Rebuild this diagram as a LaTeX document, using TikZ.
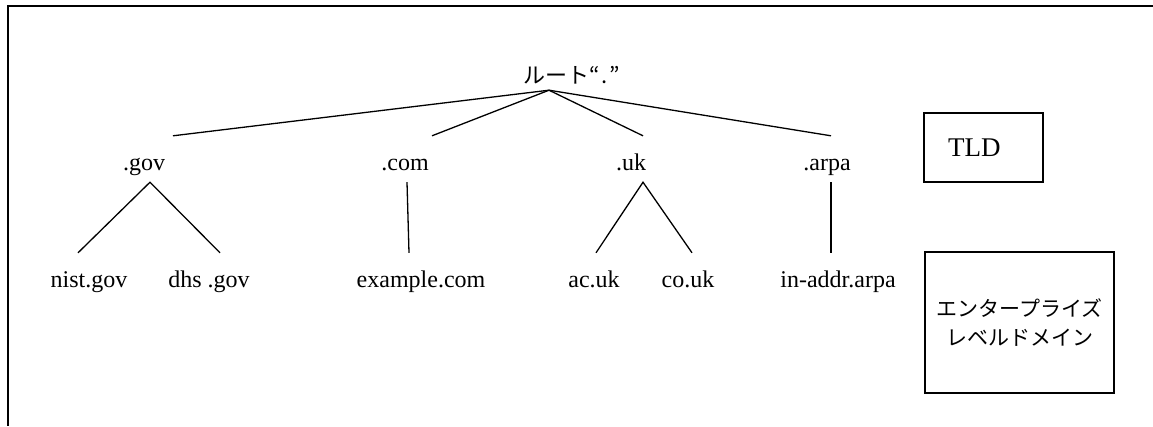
\documentclass[tikz,border=0pt]{standalone}
\usepackage{fontspec}
\setmainfont{Liberation Serif}
\newfontfamily\jpfont{Noto Sans CJK JP}
\begin{document}
\begin{tikzpicture}[x=1pt,y=-1pt,
  edge/.style={line width=1.3pt},
  tld/.style={font=\fontsize{24}{28}\selectfont, inner sep=0pt,
    text height=34pt, text depth=12pt, anchor=base},
  leaf/.style={font=\fontsize{24}{28}\selectfont, inner sep=0pt,
    text height=34pt, text depth=6pt, anchor=base},
  legend/.style={draw, line width=1.3pt}]
\useasboundingbox (0,0) rectangle (1153,426);
% page frame (top and left rules)
\draw[line width=2pt] (1153,6) -- (8,6) -- (8,426);

% root of the name space
\node[font=\jpfont\fontsize{22}{26}\selectfont, inner sep=0pt, text depth=7pt,
  anchor=base west] (root) at (523,83) {ルート“\hspace{2pt}.\hspace{2pt}”};
\coordinate (hub) at ([xshift=26pt]root.south west);

% top level domains
\node[tld] (gov)  at (144,170) {.gov};
\node[tld] (com)  at (405,170) {.com};
\node[tld] (uk)   at (631,170) {.uk};
\node[tld] (arpa) at (827,170) {.arpa};

% second level domains
\node[leaf] (nist)    at (89,287)  {nist.gov};
\node[leaf] (dhs)     at (209,287) {dhs .gov};
\node[leaf] (example) at (421,287) {example.com};
\node[leaf] (acuk)    at (594,287) {ac.uk};
\node[leaf] (couk)    at (688,287) {co.uk};
\node[leaf] (inaddr)  at (838,287) {in-addr.arpa};

% root to TLDs
\draw[edge] (hub) -- ([xshift=29pt]gov.north);
\draw[edge] (hub) -- ([xshift=27pt]com.north);
\draw[edge] (hub) -- ([xshift=12pt]uk.north);
\draw[edge] (hub) -- ([xshift=4pt]arpa.north);

% TLDs to their subdomains
\draw[edge] ([xshift=-11pt]nist.north) -- ([xshift=6pt]gov.south) -- ([xshift=11pt]dhs.north);
\draw[edge] ([xshift=2pt]com.south) -- ([xshift=-12pt]example.north);
\draw[edge] ([xshift=2pt]acuk.north) -- ([xshift=12pt]uk.south) -- ([xshift=4pt]couk.north);
\draw[edge] ([xshift=4pt]arpa.south) -- ([xshift=-7pt]inaddr.north);

% level legends
\node[legend, inner xsep=24pt, inner ysep=0pt, text width=71pt, align=left,
  minimum height=69pt, font=\fontsize{27}{32}\selectfont] (tldbox)
  at (983.5,147.5) {TLD};
\node[legend, minimum width=189pt, minimum height=141pt, align=center,
  font=\jpfont\fontsize{21}{29}\selectfont] (sldbox)
  at (1019.5,322.5) {エンタープライズ\\レベルドメイン};
\end{tikzpicture}
\end{document}
